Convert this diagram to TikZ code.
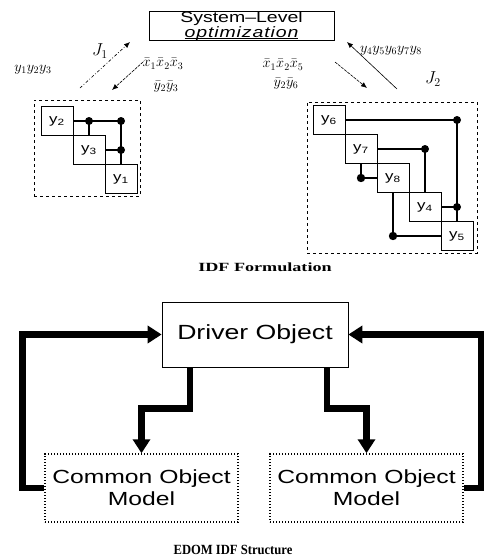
\documentclass[tikz,border=0pt]{standalone}
\usepackage{fontspec}
\setmainfont{Liberation Serif}
\newfontfamily\wide[FakeStretch=1.3]{Liberation Sans}
\newfontfamily\capwide[FakeStretch=1.45]{Liberation Serif}
\newfontfamily\capnarrow[FakeStretch=0.9]{Liberation Serif}
\usetikzlibrary{arrows.meta}

% underline that runs through the descenders
\newcommand\lowline[1]{\setbox0\hbox{#1}\rlap{\rule[-1.6pt]{\wd0}{0.7pt}}\box0}

\tikzset{
	blk/.style={draw,line width=0.6pt,minimum width=32pt,minimum height=29pt,inner sep=0pt,
		font=\wide\fontsize{13}{13}\selectfont},
	subbox/.style={draw,dashed,line width=0.7pt,inner sep=0pt},
	link/.style={line width=1.4pt},
	varlbl/.style={inner sep=0pt,font=\fontsize{14}{14}\selectfont},
	thinarrow/.style={line width=0.6pt,-{Latex[length=6pt,width=5pt]}},
	bigarrow/.style={line width=6.5pt,-{Triangle[length=14pt,width=17pt]}},
	cobox/.style={draw,line width=1.5pt,dash pattern=on 1.4pt off 1.6pt,minimum width=193pt,
		minimum height=68pt,inner sep=0pt,align=center,font=\wide\fontsize{19}{22}\selectfont}
}

\begin{document}
\begin{tikzpicture}[x=1pt,y=-1pt]
		\useasboundingbox (0,0) rectangle (492,557);
		
		% System level box
		\node[draw,line width=0.6pt,minimum width=185pt,minimum height=28pt,inner sep=0pt,align=center,
			font=\wide\fontsize{15}{11}\selectfont] (sys) at (241.5,26)
			{System–Level\\\lowline{\itshape\addfontfeature{LetterSpace=6}optimization}};
		
		% Subsystem 1 (dashed frame and blocks)
		\node[subbox,minimum width=106pt,minimum height=96pt] (sub1) at (87,148) {};
		\node[blk] (y2) at (57,121) {y\textsubscript{2}};
		\node[blk] (y3) at (89,150) {y\textsubscript{3}};
		\node[blk] (y1) at (121,179) {y\textsubscript{1}};
		
		\draw[link] (y2.east) -- (y1 |- y2) -- (y1.north);
		\draw[link] (y3 |- y2) -- (y3.north);
		\draw[link] (y3.east) -- (y1 |- y3);
		\fill (y3 |- y2) circle (4pt);
		\fill (y1 |- y2) circle (4pt);
		\fill (y1 |- y3) circle (4pt);
		
		% Subsystem 2 (dashed frame and blocks)
		\node[subbox,minimum width=170pt,minimum height=151pt] (sub2) at (392,177.5) {};
		\node[blk] (y6) at (329,120) {y\textsubscript{6}};
		\node[blk] (y7) at (361,149) {y\textsubscript{7}};
		\node[blk] (y8) at (393,178) {y\textsubscript{8}};
		\node[blk] (y4) at (425,207) {y\textsubscript{4}};
		\node[blk] (y5) at (457,236) {y\textsubscript{5}};
		
		\draw[link] (y6.east) -- (y5 |- y6) -- (y5.north);
		\draw[link] (y4.east) -- (y5 |- y4);
		\draw[link] (y7.east) -- (y4 |- y7) -- (y4.north);
		\draw[link] (y7.south) -- (y7 |- y8) -- (y8.west);
		\draw[link] (y8.south) -- (y8 |- y5) -- (y5.west);
		\fill (y5 |- y6) circle (4pt);
		\fill (y5 |- y4) circle (4pt);
		\fill (y4 |- y7) circle (4pt);
		\fill (y7 |- y8) circle (4.2pt);
		\fill (y8 |- y5) circle (4.2pt);
		
		% Ends of the exchange arrows
		\coordinate (j1s) at (80,88);
		\coordinate (j1e) at (130,42);
		\coordinate (d1s) at (143,62);
		\coordinate (d1e) at (112,90);
		\coordinate (d2s) at (335,62);
		\coordinate (d2e) at (367,88);
		\coordinate (j2s) at (397,89);
		\coordinate (j2e) at (347,42);
		
		\draw[thinarrow,dash pattern=on 3pt off 2pt on 0.8pt off 2pt] (j1s) -- (j1e);
		\draw[thinarrow,dash pattern=on 3pt off 1pt] (d1s) -- (d1e);
		\draw[thinarrow,dash pattern=on 3pt off 1pt] (d2s) -- (d2e);
		\draw[thinarrow] (j2s) -- (j2e);
		
		% Labels
		\node[font=\fontsize{17}{17}\selectfont] (lj1) at (100,51) {$J_1$};
		\node[font=\fontsize{17}{17}\selectfont] (lj2) at (433,79) {$J_2$};
		\node[varlbl] (ly1) at (33,70) {$y_1y_2y_3$};
		\node[varlbl] (ly2) at (391,51) {$y_4y_5y_6y_7y_8$};
		\node[varlbl] (lx1) at (163,64) {$\bar{x}_1\bar{x}_2\bar{x}_3$};
		\node[varlbl] (lyb1) at (166,87) {$\bar{y}_2\bar{y}_3$};
		\node[varlbl] (lx2) at (283,65) {$\bar{x}_1\bar{x}_2\bar{x}_5$};
		\node[varlbl] (lyb2) at (286,84) {$\bar{y}_2\bar{y}_6$};
		
		\node[font=\capwide\bfseries\fontsize{12.5}{12.5}\selectfont] (cap1) at (265,267) {IDF Formulation};
		
		% EDOM structure
		\node[draw,line width=0.7pt,minimum width=186pt,minimum height=65pt,inner sep=0pt,
			font=\wide\fontsize{20.5}{20.5}\selectfont] (driver) at (255,334.5) {Driver Object};
		\node[cobox] (col) at (141.5,488) {Common Object\\Model};
		\node[cobox] (cor) at (366.5,488) {Common Object\\Model};
		
		\draw[bigarrow] ([xshift=-65pt]driver.south) -- ++(0,41) -| (col.north);
		\draw[bigarrow] ([xshift=72pt]driver.south) -- ++(0,41) -| (cor.north);
		\draw[bigarrow] (col.west) -- ++(-22,0) |- (driver.west);
		\draw[bigarrow] (cor.east) -- ++(17,0) |- (driver.east);
		
		\node[font=\capnarrow\bfseries\fontsize{14}{14}\selectfont] (cap2) at (233,550) {EDOM IDF Structure};
		
	\end{tikzpicture}
\end{document}
